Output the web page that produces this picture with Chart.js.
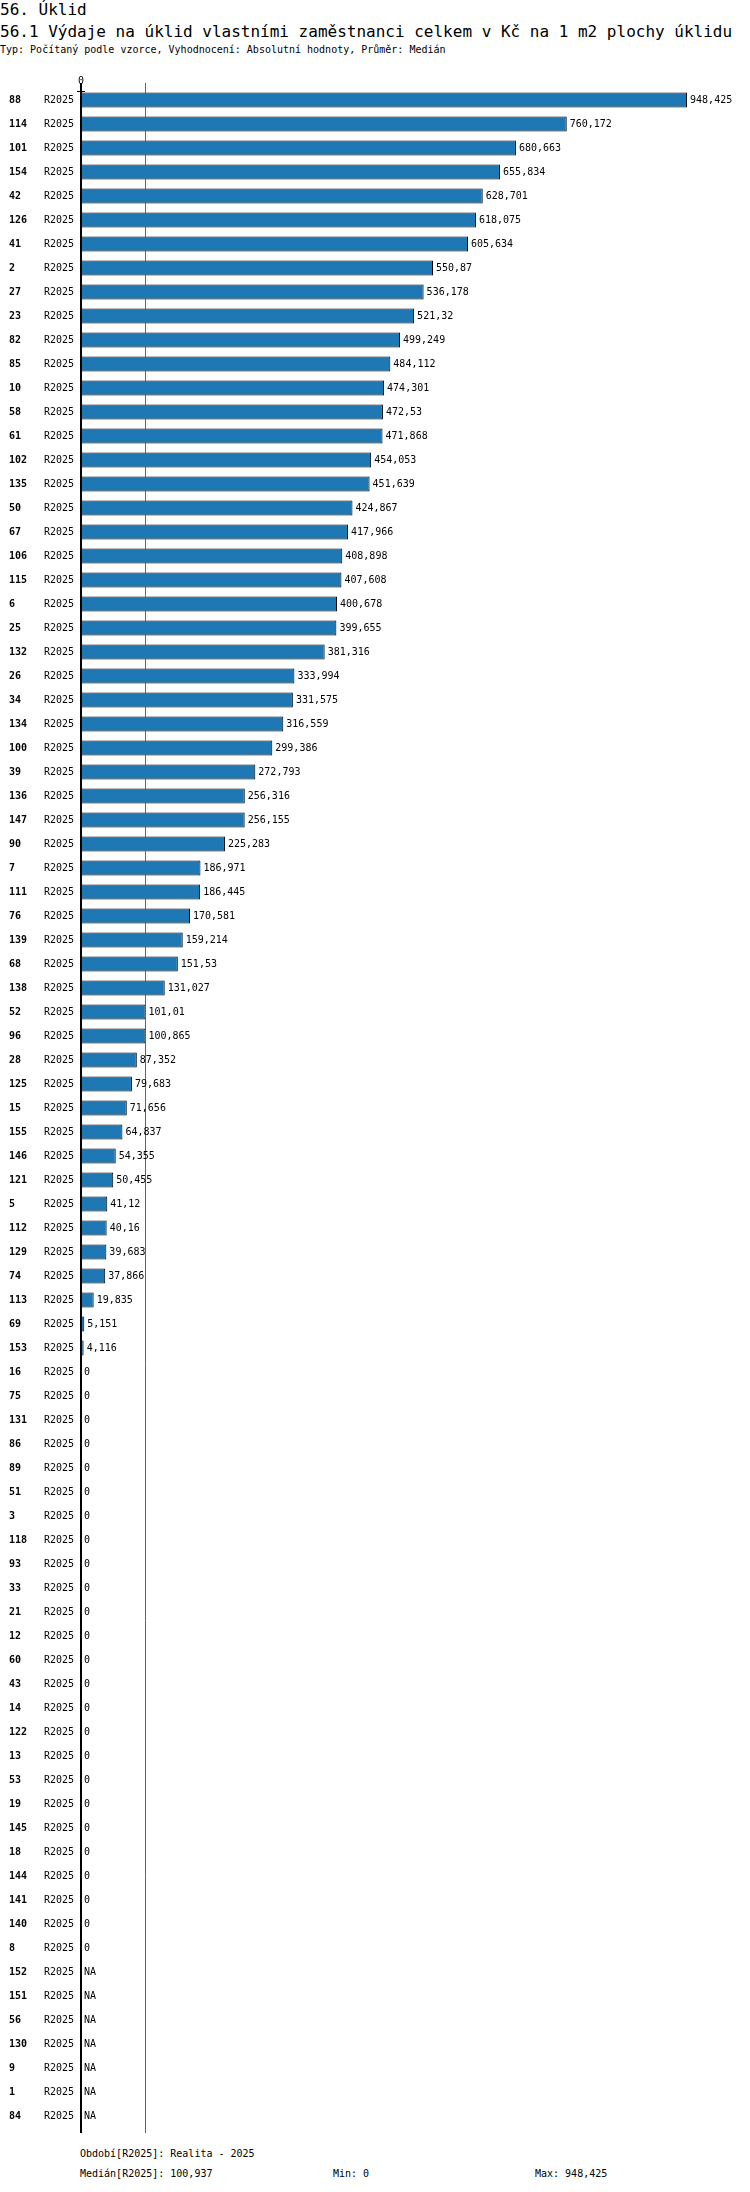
<!DOCTYPE html>
<html><head><meta charset="utf-8">
<script src="https://cdn.jsdelivr.net/npm/chart.js@4"></script>
<style>
body{margin:0;background:#fff;font-family:"DejaVu Sans Mono",monospace;color:#000}
.h1{position:absolute;left:0;top:0;font-size:16px}
.h2{position:absolute;left:0;top:22px;font-size:16px}
.sub{position:absolute;left:0;top:44px;font-size:10px}
#wrap{position:absolute;left:0;top:70px;width:750px;height:2070px}
.foot{position:absolute;font-size:10px}
</style></head><body>
<div class="h1">56. Úklid</div>
<div class="h2">56.1 Výdaje na úklid vlastními zaměstnanci celkem v Kč na 1 m2 plochy úklidu</div>
<div class="sub">Typ: Počítaný podle vzorce, Vyhodnocení: Absolutní hodnoty, Průměr: Medián</div>
<div id="wrap"><canvas id="c"></canvas></div>
<div class="foot" style="left:80px;top:2148px">Období[R2025]: Realita - 2025</div>
<div class="foot" style="left:80px;top:2168px">Medián[R2025]: 100,937</div>
<div class="foot" style="left:333px;top:2168px">Min: 0</div>
<div class="foot" style="left:535px;top:2168px">Max: 948,425</div>
<script>
const ids = ['88','114','101','154','42','126','41','2','27','23','82','85','10','58','61','102','135','50','67','106','115','6','25','132','26','34','134','100','39','136','147','90','7','111','76','139','68','138','52','96','28','125','15','155','146','121','5','112','129','74','113','69','153','16','75','131','86','89','51','3','118','93','33','21','12','60','43','14','122','13','53','19','145','18','144','141','140','8','152','151','56','130','9','1','84'];
const period = 'R2025';
const values = [948.425,760.172,680.663,655.834,628.701,618.075,605.634,550.87,536.178,521.32,499.249,484.112,474.301,472.53,471.868,454.053,451.639,424.867,417.966,408.898,407.608,400.678,399.655,381.316,333.994,331.575,316.559,299.386,272.793,256.316,256.155,225.283,186.971,186.445,170.581,159.214,151.53,131.027,101.01,100.865,87.352,79.683,71.656,64.837,54.355,50.455,41.12,40.16,39.683,37.866,19.835,5.151,4.116,
 0,0,0,0,0,0,0,0,0,0,0,0,0,0,0,0,0,0,0,0,0,0,0,0,0,
 null,null,null,null,null,null,null];
const median = 100.937;

const fmt = v => v === null ? 'NA' : String(v).replace('.', ',');

const overlay = {
  id: 'overlay',
  afterDatasetsDraw(chart) {
    const {ctx, chartArea: a} = chart;
    const x = chart.scales.x, y = chart.scales.y;
    ctx.save();
    // median line
    const mx = Math.round(x.getPixelForValue(median)) + 0.5;
    ctx.strokeStyle = '#1f77b4'; ctx.lineWidth = 1;
    ctx.beginPath(); ctx.moveTo(mx, a.top - 5); ctx.lineTo(mx, a.bottom + 5); ctx.stroke();
    // zero axis
    const zx = x.getPixelForValue(0);
    ctx.strokeStyle = '#000'; ctx.lineWidth = 2;
    ctx.beginPath(); ctx.moveTo(zx, a.top - 5); ctx.lineTo(zx, a.bottom + 5); ctx.stroke();
    ctx.lineWidth = 1;
    ctx.beginPath(); ctx.moveTo(zx - 4, a.top + 3.5); ctx.lineTo(zx + 4, a.top + 3.5); ctx.stroke();
    // "0" tick
    ctx.fillStyle = '#000';
    ctx.font = '10px "DejaVu Sans Mono"';
    ctx.textAlign = 'center'; ctx.textBaseline = 'bottom';
    ctx.fillText('0', zx, a.top - 2);
    // row labels + values
    ctx.textBaseline = 'middle';
    ids.forEach((id, i) => {
      const cy = y.getPixelForValue(i);
      ctx.textAlign = 'left';
      ctx.font = 'bold 10px "DejaVu Sans Mono"';
      ctx.fillText(id, 9, cy);
      ctx.font = '10px "DejaVu Sans Mono"';
      ctx.fillText(period, 44, cy);
      const v = values[i];
      const ex = x.getPixelForValue(v === null ? 0 : v);
      ctx.fillText(fmt(v), ex + 3, cy);
    });
    ctx.restore();
  }
};

new Chart(document.getElementById('c'), {
  type: 'bar',
  data: { labels: ids, datasets: [{ data: values, backgroundColor: '#1f77b4', borderColor: '#000', borderWidth: 1, categoryPercentage: 1, barPercentage: 0.625 }] },
  options: {
    indexAxis: 'y', responsive: true, maintainAspectRatio: false, animation: false,
    layout: { padding: { left: 81, right: 30, top: 18, bottom: 12 } },
    plugins: { legend: { display: false }, tooltip: { enabled: false } },
    scales: {
      x: { display: false, min: 0, max: 1000 },
      y: { display: false }
    }
  },
  plugins: [overlay]
});
</script>
</body></html>
